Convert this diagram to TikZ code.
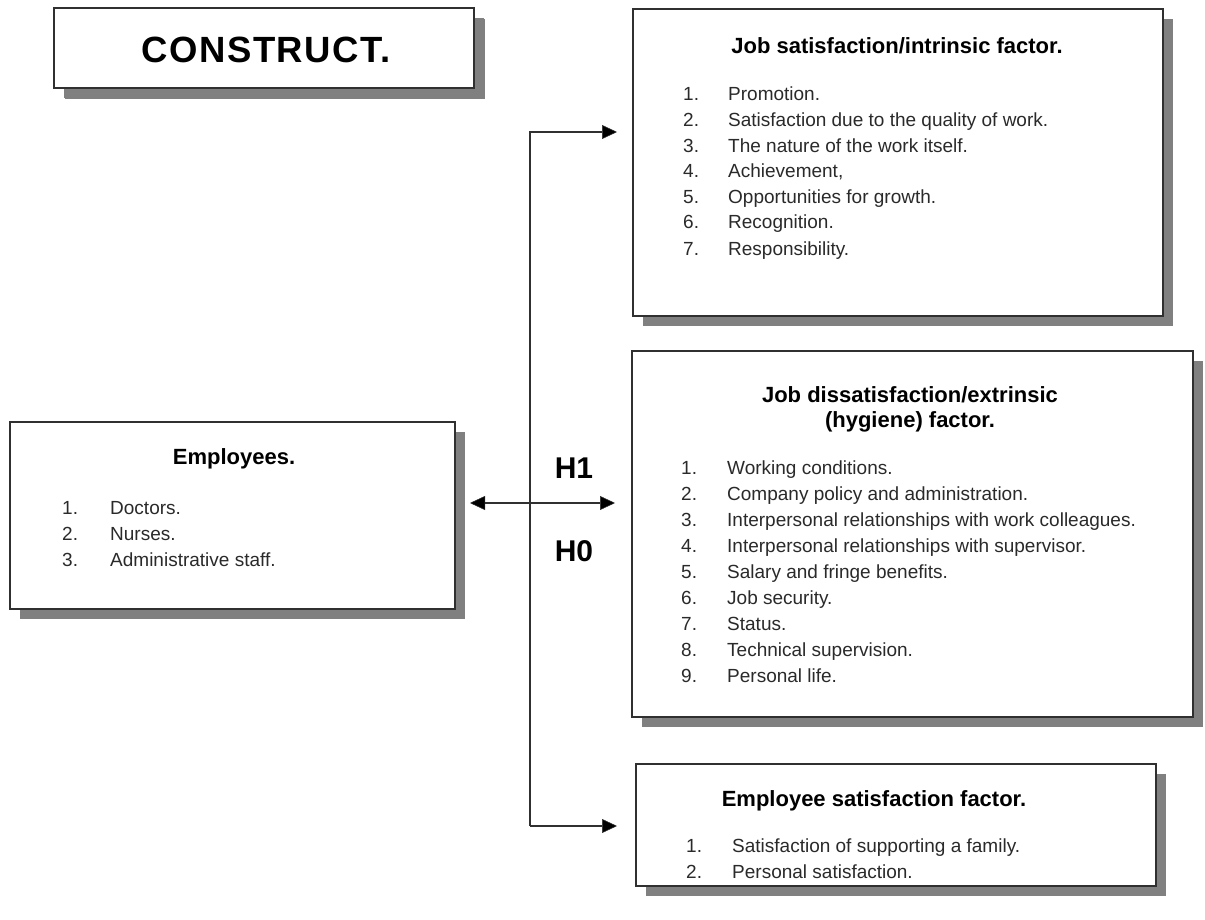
\documentclass[tikz,border=0pt]{standalone}
\usepackage{fontspec}
\setmainfont{Liberation Sans}
\usetikzlibrary{shadows,arrows.meta}
\definecolor{shadowgray}{HTML}{808080}
\definecolor{boxline}{HTML}{303030}
\definecolor{itemtext}{HTML}{2a2a2a}
\tikzset{
  box/.style={draw=boxline, line width=2pt, fill=white, inner sep=0pt, rectangle,
    drop shadow={shadow xshift=10pt, shadow yshift=-10pt, fill=shadowgray, opacity=1}},
  ttl/.style={anchor=base, inner sep=0pt, font=\fontsize{22}{26}\selectfont\bfseries, text=black},
  num/.style={anchor=base west, inner sep=0pt, font=\fontsize{19}{23}\selectfont, text=itemtext},
  itm/.style={anchor=base west, inner sep=0pt, font=\fontsize{19}{23}\selectfont, text=itemtext},
  hyp/.style={anchor=base, inner sep=0pt, font=\fontsize{30}{34}\selectfont\bfseries, text=black},
  conn/.style={draw=boxline, line width=2pt},
  arr/.tip={Triangle[length=15pt, width=14pt, fill=black, line width=0.5pt]},
  tip/.style={-arr},
  dtip/.style={arr-arr}
}
\begin{document}
\begin{tikzpicture}[x=1pt, y=-1pt]
\useasboundingbox (0,0) rectangle (1205,920);

% boxes
\node[box, minimum width=420pt, minimum height=80pt,
  drop shadow={shadow xshift=11pt, shadow yshift=-11pt, fill=shadowgray, opacity=1}] (construct) at (264,48) {};
\node[box, minimum width=530pt, minimum height=307pt] (top) at (898,162.5) {};
\node[box, minimum width=561pt, minimum height=366pt] (mid) at (912.5,534) {};
\node[box, minimum width=520pt, minimum height=122pt] (bot) at (896,825) {};
\node[box, minimum width=445pt, minimum height=187pt] (emp) at (232.5,515.5) {};

% CONSTRUCT
\node[anchor=base, inner sep=0pt, font=\fontsize{36.5}{44}\selectfont\bfseries\addfontfeatures{LetterSpace=4}] (ctext) at (266,63) {CONSTRUCT.};

% top box text
\node[ttl] (ttop) at (897,54) {Job satisfaction/intrinsic factor.};
\node[num] (t1n) at (683,101) {1.}; \node[itm] (t1) at (728,101) {Promotion.};
\node[num] (t2n) at (683,127) {2.}; \node[itm] (t2) at (728,127) {Satisfaction due to the quality of work.};
\node[num] (t3n) at (683,153) {3.}; \node[itm] (t3) at (728,153) {The nature of the work itself.};
\node[num] (t4n) at (683,178) {4.}; \node[itm] (t4) at (728,178) {Achievement,};
\node[num] (t5n) at (683,204) {5.}; \node[itm] (t5) at (728,204) {Opportunities for growth.};
\node[num] (t6n) at (683,229) {6.}; \node[itm] (t6) at (728,229) {Recognition.};
\node[num] (t7n) at (683,255) {7.}; \node[itm] (t7) at (728,255) {Responsibility.};

% middle box text
\node[ttl] (tmid1) at (910,402) {Job dissatisfaction/extrinsic};
\node[ttl] (tmid2) at (910,427) {(hygiene) factor.};
\node[num] (m1n) at (681,474) {1.}; \node[itm] (m1) at (727,474) {Working conditions.};
\node[num] (m2n) at (681,500) {2.}; \node[itm] (m2) at (727,500) {Company policy and administration.};
\node[num] (m3n) at (681,526) {3.}; \node[itm] (m3) at (727,526) {Interpersonal relationships with work colleagues.};
\node[num] (m4n) at (681,552) {4.}; \node[itm] (m4) at (727,552) {Interpersonal relationships with supervisor.};
\node[num] (m5n) at (681,578) {5.}; \node[itm] (m5) at (727,578) {Salary and fringe benefits.};
\node[num] (m6n) at (681,604) {6.}; \node[itm] (m6) at (727,604) {Job security.};
\node[num] (m7n) at (681,630) {7.}; \node[itm] (m7) at (727,630) {Status.};
\node[num] (m8n) at (681,656) {8.}; \node[itm] (m8) at (727,656) {Technical supervision.};
\node[num] (m9n) at (681,682) {9.}; \node[itm] (m9) at (727,682) {Personal life.};

% bottom box text
\node[ttl] (tbot) at (874,806) {Employee satisfaction factor.};
\node[num] (b1n) at (686,852) {1.}; \node[itm] (b1) at (732,852) {Satisfaction of supporting a family.};
\node[num] (b2n) at (686,878) {2.}; \node[itm] (b2) at (732,878) {Personal satisfaction.};

% employees box text
\node[ttl] (temp) at (234,464) {Employees.};
\node[num] (e1n) at (62,514) {1.}; \node[itm] (e1) at (110,514) {Doctors.};
\node[num] (e2n) at (62,540) {2.}; \node[itm] (e2) at (110,540) {Nurses.};
\node[num] (e3n) at (62,566) {3.}; \node[itm] (e3) at (110,566) {Administrative staff.};

% hypotheses
\node[hyp] (h1) at (574,478) {H1};
\node[hyp] (h0) at (574,561) {H0};

% connectors
\coordinate (jt) at (530,132);
\coordinate (hy) at (530,503);
\coordinate (jb) at (530,826);
\draw[conn, tip, shorten >=15pt] (jb) -- (jt) -- (jt -| top.west);
\draw[conn, tip, shorten >=18pt] (jb) -- (jb -| bot.west);
\draw[conn, dtip, shorten <=14pt, shorten >=16pt] (hy -| emp.east) -- (hy -| mid.west);
\end{tikzpicture}
\end{document}
